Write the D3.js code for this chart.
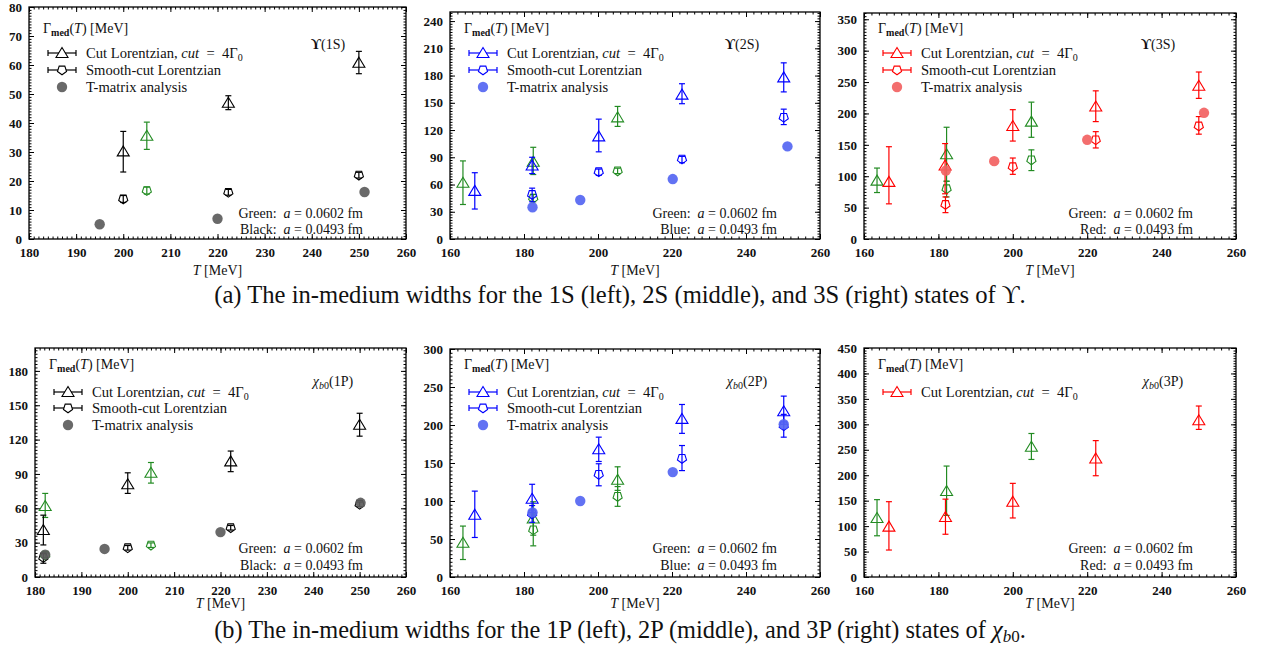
<!DOCTYPE html>
<html><head><meta charset="utf-8">
<script src="https://cdn.jsdelivr.net/npm/d3@7/dist/d3.min.js"></script>
<style>
body{margin:0;background:#fff}
svg{display:block}
svg text{font-family:"Liberation Serif",serif !important;fill:#111}
</style>
</head><body>
<svg id="c" width="1267" height="654"></svg>
<script>
// ---------- DATA (columns: T [MeV], Gamma, Gamma_low, Gamma_high) ----------
// Upsilon(1S)
const ups1S_cut_a0493    = [[200,30.2,23.1,37.1],[222.3,47,44.6,49.4],[250,60.8,57,64.7]];
const ups1S_cut_a0602    = [[205,35.6,30.9,40.3]];
const ups1S_smooth_a0493 = [[200,13.8,12.6,15.0],[222.3,16.1,15.1,17.1],[250,22,21,23]];
const ups1S_smooth_a0602 = [[205,16.7,15.5,17.9]];
const ups1S_tmatrix      = [[195,5.1],[220,7.0],[251.2,16.2]];
// Upsilon(2S)
const ups2S_cut_a0493    = [[166.7,53,33,73],[182.2,81,72,90],[200.2,113,96,132],[222.7,159,149,171],[250.2,178,162,194]];
const ups2S_cut_a0602    = [[163.5,62,38,86],[182.5,85,71,101],[205.3,134,124,146]];
const ups2S_smooth_a0493 = [[182.2,49,41,56],[200.2,74,70,77],[222.7,88,84,91],[250.2,134,126,143]];
const ups2S_smooth_a0602 = [[182.5,45,41,49],[205.3,75,72,78]];
const ups2S_tmatrix      = [[182.3,35],[195.2,43],[220.2,66],[251.2,102]];
// Upsilon(3S)
const ups3S_cut_a0493    = [[166.7,91,56,147],[181.8,117,72,152],[200,180,156,206],[222.3,211,187,236],[250,244,224,266]];
const ups3S_cut_a0602    = [[163.5,93,74,113],[182.2,135,92,178],[205,187,162,218]];
const ups3S_smooth_a0493 = [[181.9,55,42,67],[200,115,103,129],[222.3,158,145,171],[250,180,167,195]];
const ups3S_smooth_a0602 = [[182.2,80,67,92],[205,126,109,142]];
const ups3S_tmatrix      = [[182,109],[195,124],[220,158],[251.4,201]];
// chi_b0(1P)
const chi1P_cut_a0493    = [[181.8,41,28,54],[200,81,73,91],[222.2,101,92,110],[250,133,123,143]];
const chi1P_cut_a0602    = [[182.2,62,52,73],[205,91,82,100]];
const chi1P_smooth_a0493 = [[181.8,17,12,21],[200,25.5,23.5,27.5],[222.2,43,41,45],[250,63.5,61.5,65.5]];
const chi1P_smooth_a0602 = [[182.2,19,17,21],[205,27.8,25.8,29.8]];
const chi1P_tmatrix      = [[182.2,19.5],[195,24.5],[220,39.2],[250.2,64.8]];
// chi_b0(2P)
const chi2P_cut_a0493    = [[166.7,82,52,113],[182.2,103,85,122],[200.2,168,152,184],[222.7,208,189,227],[250.2,218,201,238]];
const chi2P_cut_a0602    = [[163.5,45,23,67],[182.5,77,55,99],[205.3,128,114,145]];
const chi2P_smooth_a0493 = [[182.2,83,72,94],[200.2,135,120,149],[222.7,156,140,173],[250.2,199,184,214]];
const chi2P_smooth_a0602 = [[182.5,62,41,83],[205.3,106,93,119]];
const chi2P_tmatrix      = [[182.3,85],[195.2,100],[220.2,138],[250.2,201]];
// chi_b0(3P)
const chi3P_cut_a0493    = [[166.7,99,53,148],[181.9,118,84,153],[200,148,116,184],[222.3,233,199,268],[250,308,290,336]];
const chi3P_cut_a0602    = [[163.5,116,81,152],[182.2,169,121,218],[205,256,231,282]];

// ---------- TICKS ----------
const xTicks180 = [180,190,200,210,220,230,240,250,260];
const xTicks160 = [160,180,200,220,240,260];
const yTicks1S  = [0,10,20,30,40,50,60,70,80];
const yTicks2S  = [0,30,60,90,120,150,180,210,240];
const yTicks3S  = [0,50,100,150,200,250,300,350];
const yTicks1P  = [0,30,60,90,120,150,180];
const yTicks2P  = [0,50,100,150,200,250,300];
const yTicks3P  = [0,50,100,150,200,250,300,350,400,450];

// ---------- LABELS ----------
const legendLabels = ["cut","smooth","tmatrix"];
const captionA = "(a) The in-medium widths for the 1S (left), 2S (middle), and 3S (right) states of ϒ.";
const captionB = "(b) The in-medium widths for the 1P (left), 2P (middle), and 3P (right) states of ";

// ---------- COLOURS ----------
const GREEN = "#228b22";

const panels = [
  {box:[29,406,7,239],   xd:[180,260], yd:[0,80],  xt:xTicks180, yt:yTicks1S, col:"#000", tcol:"#5c5c5c", tname:"Black",
   title:["ϒ","(1S)"], chi:false, row:0,
   cut:ups1S_cut_a0493, cutG:ups1S_cut_a0602, sm:ups1S_smooth_a0493, smG:ups1S_smooth_a0602, tm:ups1S_tmatrix},
  {box:[450,820,12,239], xd:[160,260], yd:[0,250], xt:xTicks160, yt:yTicks2S, col:"#0000ff", tcol:"#5566f2", tname:"Blue",
   title:["ϒ","(2S)"], chi:false, row:0,
   cut:ups2S_cut_a0493, cutG:ups2S_cut_a0602, sm:ups2S_smooth_a0493, smG:ups2S_smooth_a0602, tm:ups2S_tmatrix},
  {box:[864,1236,13,239],xd:[160,260], yd:[0,360], xt:xTicks160, yt:yTicks3S, col:"#ff0000", tcol:"#f26262", tname:"Red",
   title:["ϒ","(3S)"], chi:false, row:0,
   cut:ups3S_cut_a0493, cutG:ups3S_cut_a0602, sm:ups3S_smooth_a0493, smG:ups3S_smooth_a0602, tm:ups3S_tmatrix},
  {box:[35,406,348,577], xd:[180,260], yd:[0,200], xt:xTicks180, yt:yTicks1P, col:"#000", tcol:"#5c5c5c", tname:"Black",
   title:["χ","(1P)"], chi:true, row:1,
   cut:chi1P_cut_a0493, cutG:chi1P_cut_a0602, sm:chi1P_smooth_a0493, smG:chi1P_smooth_a0602, tm:chi1P_tmatrix},
  {box:[450,820,349,577],xd:[160,260], yd:[0,300], xt:xTicks160, yt:yTicks2P, col:"#0000ff", tcol:"#5566f2", tname:"Blue",
   title:["χ","(2P)"], chi:true, row:1,
   cut:chi2P_cut_a0493, cutG:chi2P_cut_a0602, sm:chi2P_smooth_a0493, smG:chi2P_smooth_a0602, tm:chi2P_tmatrix},
  {box:[864,1236,348,577],xd:[160,260],yd:[0,450], xt:xTicks160, yt:yTicks3P, col:"#ff0000", tcol:"#f26262", tname:"Red",
   title:["χ","(3P)"], chi:true, row:1,
   cut:chi3P_cut_a0493, cutG:chi3P_cut_a0602, sm:null, smG:null, tm:null}
];

const rowLayout = [
  {gam:28, leg:[53,70,87], title:44, ann:[213,229], xlab:270},
  {gam:364, leg:[392,408,425], title:381, ann:[548,565], xlab:603}
];

const FS = 14;     // body text size
const LFS = 14.6;  // legend text size
const svg = d3.select("#c");
const triPath = "M0,-5.5L6,4.5L-6,4.5Z";
const pentPath = (() => { const r=4.8; const p=d3.range(5).map(k=>{const a=Math.PI/2+k*2*Math.PI/5; return [r*Math.cos(a), r*Math.sin(a)];}); return "M"+p.map(d=>d.join(",")).join("L")+"Z"; })();

function drawSeries(g, x, y, data, color, path) {
  if (!data) return;
  const s = g.append("g").attr("stroke", color).attr("fill","none").attr("stroke-width",1.2);
  data.forEach(d => {
    const cx = x(d[0]), cy = y(d[1]), lo = y(d[2]), hi = y(d[3]);
    s.append("line").attr("x1",cx).attr("x2",cx).attr("y1",lo).attr("y2",hi);
    s.append("line").attr("x1",cx-3).attr("x2",cx+3).attr("y1",lo).attr("y2",lo);
    s.append("line").attr("x1",cx-3).attr("x2",cx+3).attr("y1",hi).attr("y2",hi);
    s.append("path").attr("d",path).attr("transform",`translate(${cx},${cy})`).attr("stroke-width",1.1);
  });
}

panels.forEach(p => {
  const [L,R,T,B] = p.box;
  const x = d3.scaleLinear().domain(p.xd).range([L,R]);
  const y = d3.scaleLinear().domain(p.yd).range([B,T]);
  const g = svg.append("g");
  const lay = rowLayout[p.row];

  const xStep = p.xt[1]-p.xt[0], yStep = p.yt[1]-p.yt[0];
  const xMinor = d3.range(p.xd[0], p.xd[1]+1e-9, xStep/10);
  const yMinor = d3.range(p.yd[0], p.yd[1]+1e-9, yStep/10);

  const tickStyle = sel => { sel.select(".domain").remove(); sel.selectAll("line").attr("stroke","#000").attr("stroke-width",1); };
  g.append("g").attr("transform",`translate(0,${B})`).call(d3.axisBottom(x).tickValues(xMinor).tickSize(-2.5).tickFormat("")).call(tickStyle);
  g.append("g").attr("transform",`translate(0,${T})`).call(d3.axisTop(x).tickValues(xMinor).tickSize(-2.5).tickFormat("")).call(tickStyle);
  g.append("g").attr("transform",`translate(${L},0)`).call(d3.axisLeft(y).tickValues(yMinor).tickSize(-2.5).tickFormat("")).call(tickStyle);
  g.append("g").attr("transform",`translate(${R},0)`).call(d3.axisRight(y).tickValues(yMinor).tickSize(-2.5).tickFormat("")).call(tickStyle);
  const xa = g.append("g").attr("transform",`translate(0,${B})`).call(d3.axisBottom(x).tickValues(p.xt).tickSize(-5).tickPadding(9)).call(tickStyle);
  g.append("g").attr("transform",`translate(0,${T})`).call(d3.axisTop(x).tickValues(p.xt).tickSize(-5).tickFormat("")).call(tickStyle);
  const ya = g.append("g").attr("transform",`translate(${L},0)`).call(d3.axisLeft(y).tickValues(p.yt).tickSize(-5).tickPadding(7)).call(tickStyle);
  g.append("g").attr("transform",`translate(${R},0)`).call(d3.axisRight(y).tickValues(p.yt).tickSize(-5).tickFormat("")).call(tickStyle);
  [xa,ya].forEach(a => a.selectAll("text").style("font-size","13px")
      .style("font-weight","bold").style("fill","#111"));

  g.append("rect").attr("x",L).attr("y",T).attr("width",R-L).attr("height",B-T)
    .attr("fill","none").attr("stroke","#000").attr("stroke-width",1.3);

  drawSeries(g, x, y, p.cutG, GREEN, triPath);
  drawSeries(g, x, y, p.smG, GREEN, pentPath);
  drawSeries(g, x, y, p.cut, p.col, triPath);
  drawSeries(g, x, y, p.sm, p.col, pentPath);
  if (p.tm) {
    g.append("g").selectAll("circle").data(p.tm).join("circle")
      .attr("cx",d=>x(d[0])).attr("cy",d=>y(d[1])).attr("r",5.2)
      .attr("fill",p.tcol).attr("opacity",0.92);
  }

  const gl = g.append("text").attr("x",L+14).attr("y",lay.gam+5).style("font-size",FS+"px");
  gl.append("tspan").text("Γ");
  gl.append("tspan").style("font-size","10px").style("font-weight","bold").attr("dy",3).text("med");
  gl.append("tspan").attr("dy",-3).text("(");
  gl.append("tspan").style("font-style","italic").text("T");
  gl.append("tspan").text(") [MeV]");

  const nLeg = p.tm ? 3 : 1;
  for (let i=0;i<nLeg;i++) {
    const ly = lay.leg[i], mx = L+33;
    if (i<2) {
      const lg = g.append("g").attr("stroke",p.col).attr("fill","none").attr("stroke-width",1.2);
      lg.append("line").attr("x1",mx-14).attr("x2",mx+14).attr("y1",ly).attr("y2",ly);
      lg.append("line").attr("x1",mx-14).attr("x2",mx-14).attr("y1",ly-3).attr("y2",ly+3);
      lg.append("line").attr("x1",mx+14).attr("x2",mx+14).attr("y1",ly-3).attr("y2",ly+3);
      lg.append("path").attr("d", i===0?triPath:pentPath).attr("transform",`translate(${mx},${ly})`).attr("fill","#fff").attr("stroke-width",1.1);
    } else {
      g.append("circle").attr("cx",mx).attr("cy",ly).attr("r",5.2).attr("fill",p.tcol).attr("opacity",0.92);
    }
    const t = g.append("text").attr("x",L+57).attr("y",ly+5).style("font-size",LFS+"px");
    if (legendLabels[i]==="cut") {
      t.append("tspan").text("Cut Lorentzian, ");
      t.append("tspan").style("font-style","italic").text("cut");
      t.append("tspan").text("\u2002=\u20024Γ");
      t.append("tspan").style("font-size","10px").attr("dy",3).text("0");
    } else if (legendLabels[i]==="smooth") {
      t.text("Smooth-cut Lorentzian");
    } else {
      t.text("T-matrix analysis");
    }
  }

  const tt = g.append("text").attr("x", R-(p.chi?73:78)).attr("y",lay.title+5).attr("text-anchor","middle").style("font-size",FS+"px");
  if (p.chi) {
    tt.append("tspan").style("font-style","italic").text("χ");
    tt.append("tspan").style("font-size","10px").attr("dy",3).style("font-style","italic").text("b");
    tt.append("tspan").style("font-size","10px").text("0");
    tt.append("tspan").attr("dy",-3).text(p.title[1]);
  } else {
    tt.append("tspan").style("font-weight","bold").text(p.title[0]);
    tt.append("tspan").text(p.title[1]);
  }

  [["Green","0.0602"],[p.tname,"0.0493"]].forEach((a,i) => {
    const t = g.append("text").attr("x",R-43).attr("y",lay.ann[i]+5).attr("text-anchor","end").style("font-size",FS+"px");
    t.append("tspan").text(a[0]+":\u00a0\u00a0");
    t.append("tspan").style("font-style","italic").text("a");
    t.append("tspan").text(" = "+a[1]+" fm");
  });

  const xl = g.append("text").attr("x",(L+R)/2).attr("y",lay.xlab+5).attr("text-anchor","middle").style("font-size",FS+"px");
  xl.append("tspan").style("font-style","italic").text("T");
  xl.append("tspan").text(" [MeV]");
});

function caption(yc, build) {
  const t = svg.append("text").attr("x",620).attr("y",yc+6).attr("text-anchor","middle").style("font-size","18.5px");
  build(t);
  const w = t.node().getComputedTextLength();
  t.style("font-size", (18.5*812/w)+"px");
}
caption(297, t => t.text(captionA));
caption(632, t => {
  t.append("tspan").text(captionB);
  t.append("tspan").style("font-style","italic").text("χ");
  t.append("tspan").style("font-style","italic").style("font-size","70%").attr("dy",4).text("b");
  t.append("tspan").style("font-size","70%").text("0");
  t.append("tspan").attr("dy",-4).text(".");
});
</script>
</body></html>
